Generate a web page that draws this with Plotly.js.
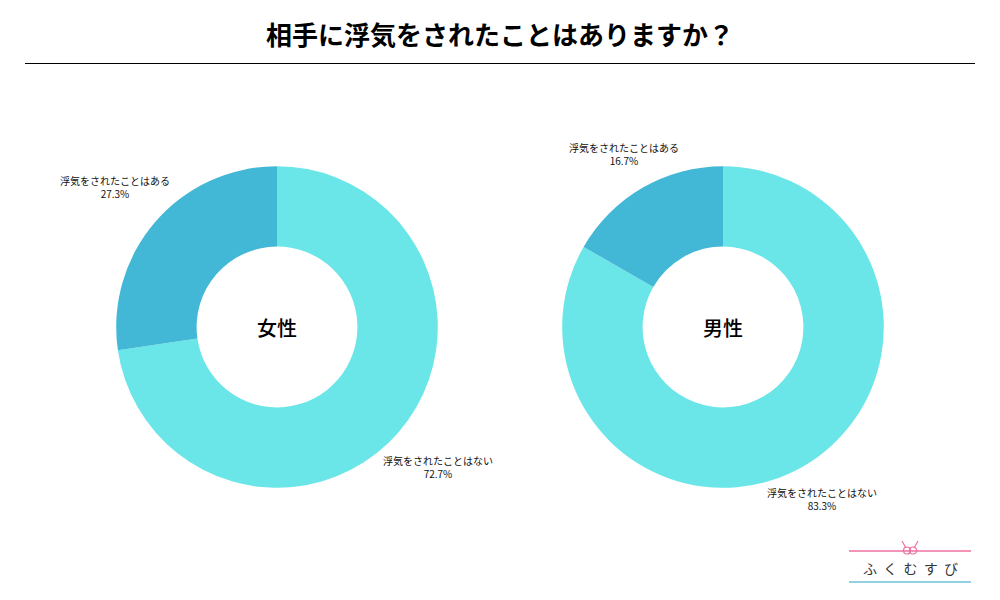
<!DOCTYPE html>
<html>
<head>
<meta charset="utf-8">
<script src="https://cdn.plot.ly/plotly-3.0.1.min.js"></script>
<style>html,body{margin:0;padding:0;background:#fff;}#chart{width:1000px;height:600px;}</style>
</head>
<body>
<div id="chart"></div>
<script>
const chartTitle = "相手に浮気をされたことはありますか？";
const categories = ["浮気をされたことはない", "浮気をされたことはある"];
const groups = ["女性", "男性"];
const femaleValues = [72.7, 27.3];
const maleValues = [83.3, 16.7];
const sliceColors = ["#6ae5e8", "#42b8d6"];
const brandName = "ふくむすび";

const FONT = "'Noto Sans CJK JP', 'Noto Sans', sans-serif";

const domains = [
  {x: [0.116, 0.438], y: [0.187, 0.723]},
  {x: [0.562, 0.884], y: [0.187, 0.723]}
];
const seriesList = [femaleValues, maleValues];

const data = seriesList.map((vals, i) => ({
  type: "pie",
  labels: categories,
  values: vals,
  hole: 0.5,
  sort: false,
  direction: "clockwise",
  rotation: 0,
  textinfo: "none",
  hoverinfo: "label+percent",
  marker: {colors: sliceColors, line: {width: 0}},
  domain: domains[i],
  showlegend: false
}));

// label positions (paper coords) for [group][category]
const labelPos = [
  [[0.438, 1 - 467/600], [0.115, 1 - 187/600]],
  [[0.822, 1 - 499/600], [0.624, 1 - 154/600]]
];

const annotations = [];
seriesList.forEach((vals, g) => {
  vals.forEach((v, c) => {
    annotations.push({
      xref: "paper", yref: "paper",
      x: labelPos[g][c][0], y: labelPos[g][c][1],
      xanchor: "center", yanchor: "middle",
      text: categories[c] + "<br>" + v.toFixed(1) + "%",
      showarrow: false,
      align: "center",
      font: {family: FONT, size: 10, color: "#111"}
    });
  });
  annotations.push({
    xref: "paper", yref: "paper",
    x: (domains[g].x[0] + domains[g].x[1]) / 2,
    y: (domains[g].y[0] + domains[g].y[1]) / 2,
    xanchor: "center", yanchor: "middle",
    text: groups[g],
    showarrow: false,
    font: {family: FONT, size: 20, color: "#000", weight: 500}
  });
});

annotations.push({
  xref: "paper", yref: "paper",
  x: 0.5, y: 1 - 33/600,
  xanchor: "center", yanchor: "middle",
  text: "<b>" + chartTitle + "</b>",
  showarrow: false,
  font: {family: FONT, size: 26, color: "#000"}
});

annotations.push({
  xref: "paper", yref: "paper",
  x: 0.910, y: 1 - 568/600,
  xanchor: "center", yanchor: "middle",
  text: brandName.split("").join("  "),
  showarrow: false,
  font: {family: FONT, size: 14, color: "#333"}
});

const shapes = [
  {type: "line", xref: "paper", yref: "paper", x0: 0.025, x1: 0.975, y0: 1 - 63.5/600, y1: 1 - 63.5/600, line: {color: "#000", width: 1}},
  {type: "line", xref: "paper", yref: "paper", x0: 0.849, x1: 0.971, y0: 1 - 551/600, y1: 1 - 551/600, line: {color: "#ee6fa0", width: 1.5}},
  {type: "line", xref: "paper", yref: "paper", x0: 0.849, x1: 0.971, y0: 1 - 582/600, y1: 1 - 582/600, line: {color: "#6cc3d8", width: 1.5}},
  {type: "circle", xref: "paper", yref: "paper", x0: 0.9035, x1: 0.9105, y0: 1 - 554/600, y1: 1 - 547/600, line: {color: "#ee6fa0", width: 1.2}},
  {type: "circle", xref: "paper", yref: "paper", x0: 0.9095, x1: 0.9165, y0: 1 - 554/600, y1: 1 - 547/600, line: {color: "#ee6fa0", width: 1.2}},
  {type: "line", xref: "paper", yref: "paper", x0: 0.902, x1: 0.906, y0: 1 - 541/600, y1: 1 - 548/600, line: {color: "#ee6fa0", width: 1.2}},
  {type: "line", xref: "paper", yref: "paper", x0: 0.918, x1: 0.914, y0: 1 - 541/600, y1: 1 - 548/600, line: {color: "#ee6fa0", width: 1.2}}
];

const layout = {
  width: 1000, height: 600,
  margin: {l: 0, r: 0, t: 0, b: 0},
  paper_bgcolor: "#fff",
  plot_bgcolor: "#fff",
  font: {family: FONT},
  annotations: annotations,
  shapes: shapes,
  showlegend: false
};

Plotly.newPlot("chart", data, layout, {displayModeBar: false, staticPlot: true});
</script>
</body>
</html>
